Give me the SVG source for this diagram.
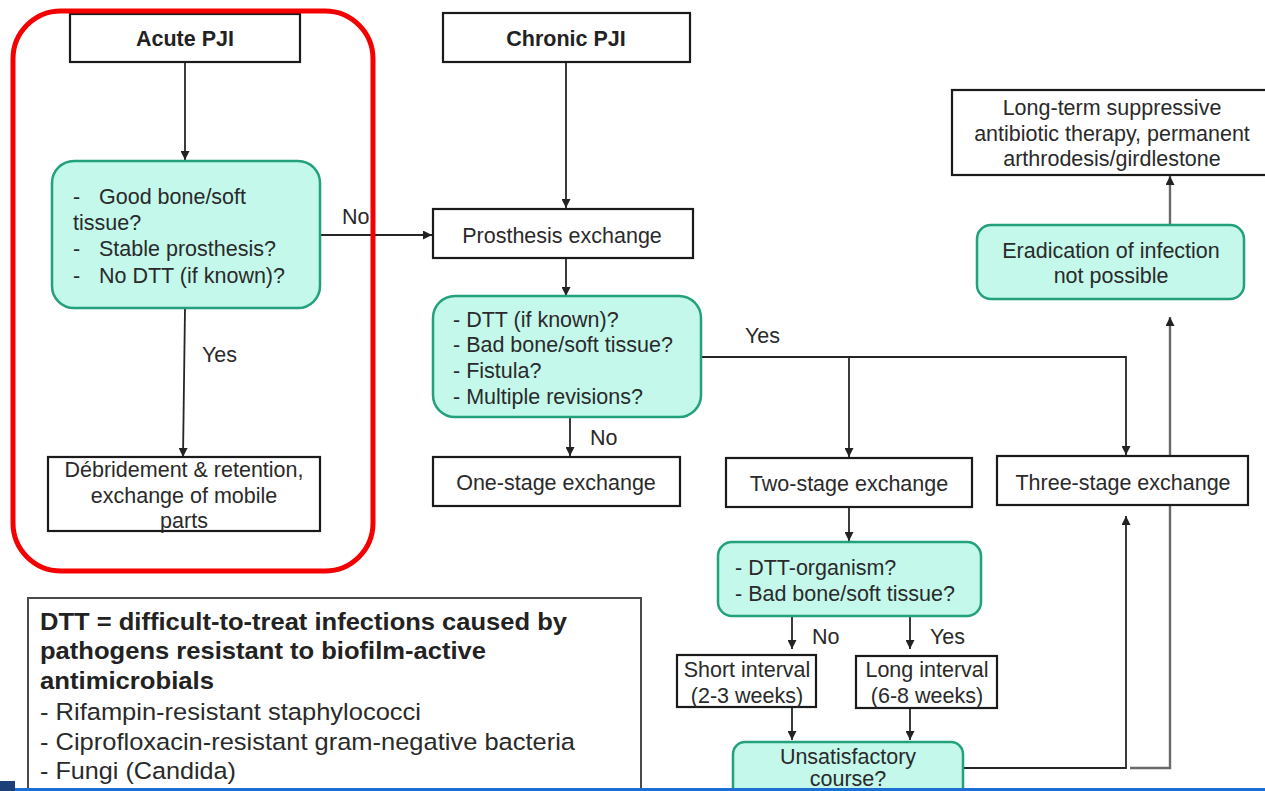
<svg xmlns="http://www.w3.org/2000/svg" width="1265" height="791" viewBox="0 0 1265 791">
<defs>
<marker id="ah" viewBox="0 0 10 10" refX="10" refY="5" markerWidth="9" markerHeight="9" markerUnits="userSpaceOnUse" orient="auto">
<path d="M0,0 L10,5 L0,10 z" fill="#222"/>
</marker>
<marker id="ahg" viewBox="0 0 10 10" refX="10" refY="5" markerWidth="9" markerHeight="9" markerUnits="userSpaceOnUse" orient="auto">
<path d="M0,0 L10,5 L0,10 z" fill="#222"/>
</marker>
</defs>
<style>
text{font-family:"Liberation Sans",Arial,sans-serif;font-size:21.5px;fill:#2a2a2a}
.b{font-weight:bold;fill:#222}
.c{text-anchor:middle}
.box{fill:#fff;stroke:#1a1a1a;stroke-width:2.2}
.g{fill:#c3f8ea;stroke:#23a07c;stroke-width:2.5}
.ln{fill:none;stroke:#262626;stroke-width:1.8}
.lg{fill:none;stroke:#6a6a6a;stroke-width:2.4}
.leg{font-size:24.5px}
</style>
<rect width="1265" height="791" fill="#fff"/>

<g id="connectors">
<path class="ln" d="M185,62 V160" marker-end="url(#ah)"/>
<path class="ln" d="M320,235 H432" marker-end="url(#ah)"/>
<path class="ln" d="M185,308 L183,457" marker-end="url(#ah)"/>
<path class="ln" d="M566,62 V208" marker-end="url(#ah)"/>
<path class="ln" d="M566,258 V296" marker-end="url(#ah)"/>
<path class="ln" d="M570,417 V456" marker-end="url(#ah)"/>
<path class="ln" d="M701,357 H1126 V455" marker-end="url(#ah)"/>
<path class="ln" d="M849,357 V457" marker-end="url(#ah)"/>
<path class="ln" d="M849,507 V541" marker-end="url(#ah)"/>
<path class="ln" d="M792,617 V649" marker-end="url(#ah)"/>
<path class="ln" d="M910,617 V649" marker-end="url(#ah)"/>
<path class="ln" d="M792,708 V740" marker-end="url(#ah)"/>
<path class="ln" d="M910,708 V740" marker-end="url(#ah)"/>
<path class="ln" d="M963,768 H1126 V516" marker-end="url(#ah)"/>
<path class="lg" d="M1130,768 H1170 V317" marker-end="url(#ahg)"/>
<path class="lg" d="M1170,225 V176" marker-end="url(#ahg)"/>
</g>

<g id="acute">
<rect class="box" x="70" y="14" width="230" height="48"/>
<text class="b c" x="185" y="46">Acute PJI</text>
</g>
<g id="q1">
<rect class="g" x="52" y="161" width="268" height="147" rx="22"/>
<text x="73" y="204">-</text><text x="99" y="204">Good bone/soft</text>
<text x="73" y="230">tissue?</text>
<text x="73" y="256">-</text><text x="99" y="256">Stable prosthesis?</text>
<text x="73" y="283">-</text><text x="99" y="283">No DTT (if known)?</text>
</g>
<g id="debridement">
<rect class="box" x="48" y="457" width="272" height="74"/>
<text class="c" x="184" y="477">Débridement &amp; retention,</text>
<text class="c" x="184" y="503">exchange of mobile</text>
<text class="c" x="184" y="528">parts</text>
</g>
<g id="chronic">
<rect class="box" x="443" y="13" width="247" height="49"/>
<text class="b c" x="566" y="46">Chronic PJI</text>
</g>
<g id="prosthesis">
<rect class="box" x="433" y="209" width="260" height="49"/>
<text class="c" x="562" y="243">Prosthesis exchange</text>
</g>
<g id="q2">
<rect class="g" x="433" y="296" width="268" height="121" rx="22"/>
<text x="453" y="327">- DTT (if known)?</text>
<text x="453" y="352">- Bad bone/soft tissue?</text>
<text x="453" y="378">- Fistula?</text>
<text x="453" y="404">- Multiple revisions?</text>
</g>
<g id="onestage">
<rect class="box" x="433" y="457" width="247" height="49"/>
<text class="c" x="556" y="490">One-stage exchange</text>
</g>
<g id="twostage">
<rect class="box" x="726" y="458" width="246" height="49"/>
<text class="c" x="849" y="491">Two-stage exchange</text>
</g>
<g id="threestage">
<rect class="box" x="997" y="456" width="251" height="49"/>
<text class="c" x="1123" y="490">Three-stage exchange</text>
</g>
<g id="q3">
<rect class="g" x="718" y="542" width="263" height="74" rx="14"/>
<text x="735" y="575">- DTT-organism?</text>
<text x="735" y="601">- Bad bone/soft tissue?</text>
</g>
<g id="short">
<rect class="box" x="677" y="655" width="139" height="52"/>
<text class="c" x="747" y="677">Short interval</text>
<text class="c" x="747" y="703">(2-3 weeks)</text>
</g>
<g id="long">
<rect class="box" x="856" y="656" width="141" height="52"/>
<text class="c" x="927" y="677">Long interval</text>
<text class="c" x="927" y="703">(6-8 weeks)</text>
</g>
<g id="unsatisfactory">
<rect class="g" x="733" y="742" width="230" height="70" rx="12"/>
<text class="c" x="848" y="764">Unsatisfactory</text>
<text class="c" x="848" y="786">course?</text>
</g>
<g id="eradication">
<rect class="g" x="977" y="225" width="267" height="74" rx="14"/>
<text class="c" x="1111" y="258">Eradication of infection</text>
<text class="c" x="1111" y="283">not possible</text>
</g>
<g id="longterm">
<rect class="box" x="952" y="90" width="320" height="85"/>
<text class="c" x="1112" y="115">Long-term suppressive</text>
<text class="c" x="1112" y="141">antibiotic therapy, permanent</text>
<text class="c" x="1112" y="166">arthrodesis/girdlestone</text>
</g>

<g id="labels">
<text x="342" y="224">No</text>
<text x="202" y="362">Yes</text>
<text x="745" y="343">Yes</text>
<text x="590" y="445">No</text>
<text x="812" y="644">No</text>
<text x="930" y="644">Yes</text>
</g>

<g id="legend">
<rect x="28" y="598" width="613" height="200" fill="#fff" stroke="#4a4a4a" stroke-width="2"/>
<text class="b leg" x="40" y="630" textLength="527" lengthAdjust="spacingAndGlyphs">DTT = difficult-to-treat infections caused by</text>
<text class="b leg" x="40" y="659" textLength="446" lengthAdjust="spacingAndGlyphs">pathogens resistant to biofilm-active</text>
<text class="b leg" x="40" y="689" textLength="174" lengthAdjust="spacingAndGlyphs">antimicrobials</text>
<text class="leg" x="40" y="720" textLength="381" lengthAdjust="spacingAndGlyphs">- Rifampin-resistant staphylococci</text>
<text class="leg" x="40" y="750" textLength="535" lengthAdjust="spacingAndGlyphs">- Ciprofloxacin-resistant gram-negative bacteria</text>
<text class="leg" x="40" y="779" textLength="196" lengthAdjust="spacingAndGlyphs">- Fungi (Candida)</text>
</g>

<rect id="acute-frame" x="13" y="11" width="360" height="560" rx="48" fill="none" stroke="#f40000" stroke-width="5"/>

<rect x="0" y="788" width="1265" height="3" fill="#1a6fd0"/>
<rect x="0" y="781" width="15" height="10" fill="#1d3f78"/>
</svg>
